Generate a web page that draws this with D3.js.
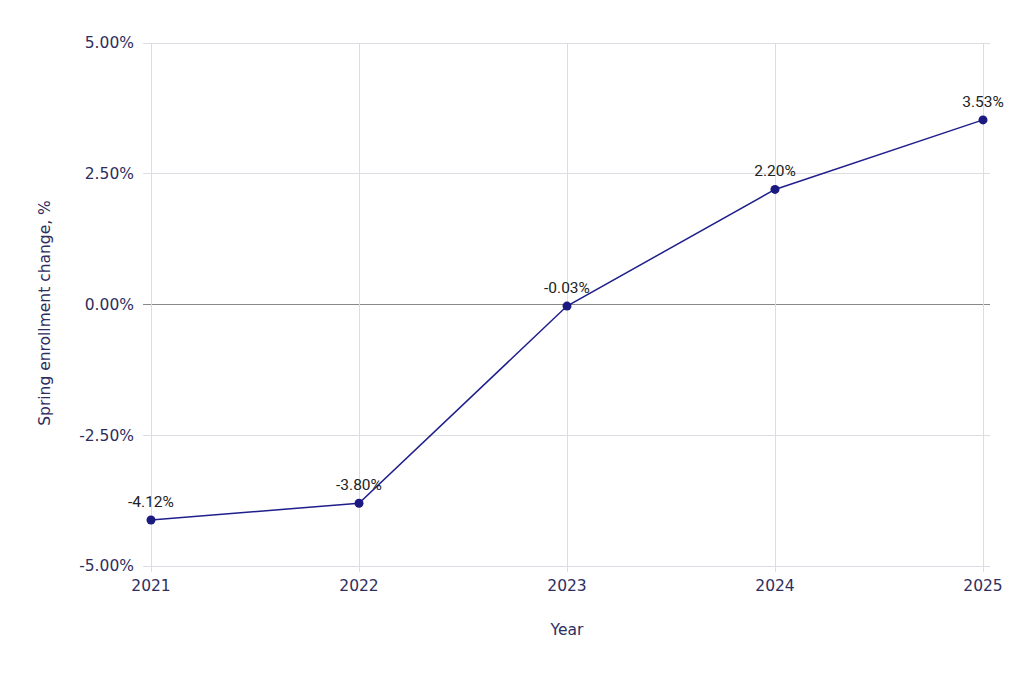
<!DOCTYPE html>
<html><head><meta charset="utf-8">
<script src="https://cdn.jsdelivr.net/npm/d3@7"></script>
<style>body{margin:0;background:#fff} .ax{font-family:"DejaVu Sans",Verdana,sans-serif;}</style>
</head><body>
<svg id="c" width="1024" height="673"></svg>
<script>
const years = [2021, 2022, 2023, 2024, 2025];
const values = [-4.12, -3.80, -0.03, 2.20, 3.53];
const yTicks = [-5, -2.5, 0, 2.5, 5];
const yTitle = "Spring enrollment change, %";
const xTitle = "Year";

const svg = d3.select("#c");
const x = d3.scaleLinear().domain([2021, 2025]).range([151, 983]);
const y = d3.scaleLinear().domain([-5, 5]).range([566, 43]);
const axisColor = "#2e2e5e";
const gridColor = "#dcdce2";
const fmt = v => d3.format(".2f")(v).replace("\u2212", "-") + "%";

svg.append("g").selectAll("line").data(yTicks).join("line")
  .attr("x1", 143).attr("x2", 990)
  .attr("y1", d => y(d)).attr("y2", d => y(d))
  .attr("stroke", d => d === 0 ? "#888" : gridColor).attr("stroke-width", 1)
  .attr("shape-rendering", "crispEdges");
svg.append("g").selectAll("line").data(years).join("line")
  .attr("x1", d => x(d)).attr("x2", d => x(d))
  .attr("y1", 43).attr("y2", 572)
  .attr("stroke", gridColor).attr("stroke-width", 1)
  .attr("shape-rendering", "crispEdges");

svg.append("g").selectAll("text").data(yTicks).join("text")
  .attr("class", "ax")
  .attr("x", 134).attr("y", d => y(d)).attr("dy", "0.35em")
  .attr("text-anchor", "end")
  .attr("font-size", 15.5).attr("fill", axisColor)
  .text(d => fmt(d));
svg.append("g").selectAll("text").data(years).join("text")
  .attr("class", "ax")
  .attr("x", d => x(d)).attr("y", 591)
  .attr("text-anchor", "middle")
  .attr("font-size", 15.5).attr("fill", axisColor)
  .text(d => d);

svg.append("text").attr("class", "ax").attr("x", 567).attr("y", 635).attr("text-anchor", "middle")
  .attr("font-size", 15.5).attr("fill", axisColor).text(xTitle);
svg.append("text").attr("class", "ax").attr("transform", "translate(50,313) rotate(-90)").attr("text-anchor", "middle")
  .attr("font-size", 15.5).attr("fill", axisColor).text(yTitle);

const data = years.map((yr, i) => ({yr, v: values[i]}));
const lineColor = "#1f1f8c";
svg.append("path").datum(data)
  .attr("d", d3.line().x(d => x(d.yr)).y(d => y(d.v)))
  .attr("fill", "none").attr("stroke", lineColor).attr("stroke-width", 1.5);
svg.append("g").selectAll("circle").data(data).join("circle")
  .attr("cx", d => x(d.yr)).attr("cy", d => y(d.v)).attr("r", 4.5)
  .attr("fill", "#1a1a80");
svg.append("g").selectAll("text").data(data).join("text")
  .attr("x", d => x(d.yr)).attr("y", d => y(d.v) - 13)
  .attr("text-anchor", "middle")
  .attr("font-family", "Roboto").attr("font-size", 15.5).attr("fill", "#222")
  .text(d => fmt(d.v));
</script>
</body></html>
